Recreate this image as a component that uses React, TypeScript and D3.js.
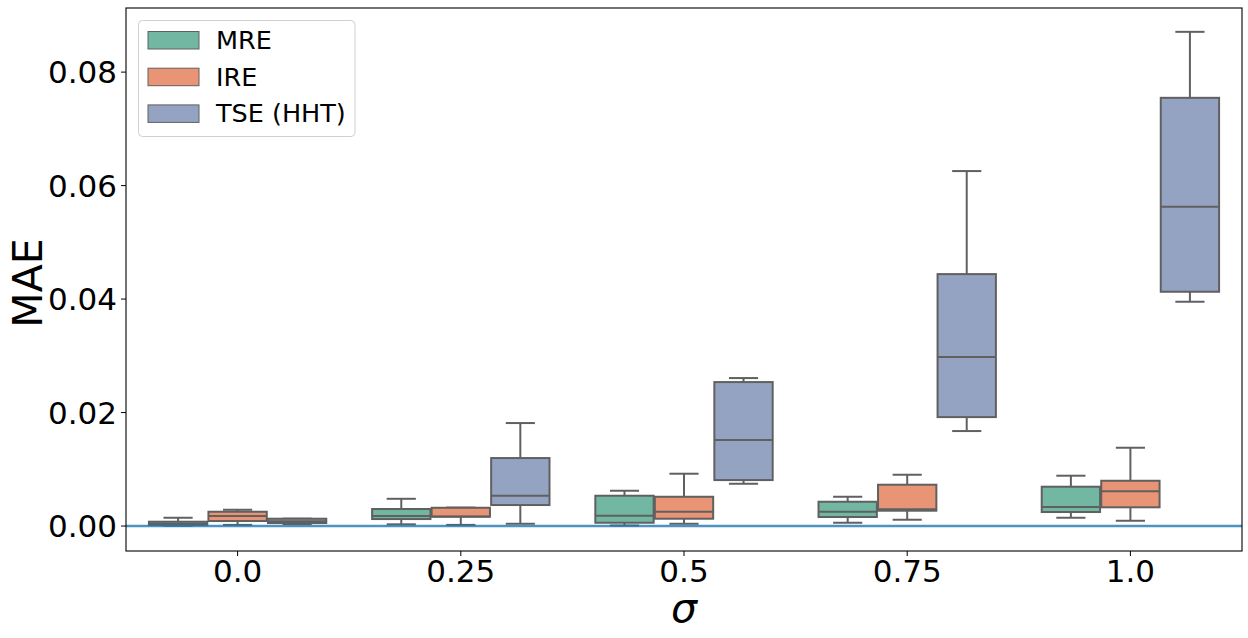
import * as d3 from "d3";

// sigma levels on the x axis
const sigmas = ["0.0", "0.25", "0.5", "0.75", "1.0"];
const seriesNames = ["MRE", "IRE", "TSE (HHT)"];
const seriesColors = ["#71b7a1", "#e99575", "#95a3c3"];

// per sigma: [whisker low, q1, median, q3, whisker high]
const mreStats = [
  [0.00005, 0.00018, 0.0004, 0.00076, 0.00146],
  [0.0003, 0.00123, 0.00176, 0.003, 0.0048],
  [0.0001, 0.00058, 0.00182, 0.00534, 0.00622],
  [0.00058, 0.00159, 0.00252, 0.00428, 0.00516],
  [0.00146, 0.00247, 0.00335, 0.00693, 0.00887],
];
const ireStats = [
  [0.0002, 0.00088, 0.00176, 0.00252, 0.00287],
  [0.0002, 0.00164, 0.0017, 0.00322, 0.00325],
  [0.0004, 0.00129, 0.00252, 0.00516, 0.00922],
  [0.00111, 0.0027, 0.00294, 0.00728, 0.00904],
  [0.00093, 0.0033, 0.00611, 0.00798, 0.0138],
];
const tseStats = [
  [0.00035, 0.00053, 0.00083, 0.00129, 0.0013],
  [0.0004, 0.0037, 0.00534, 0.01198, 0.01815],
  [0.00745, 0.0081, 0.01515, 0.02537, 0.02608],
  [0.01674, 0.0192, 0.02978, 0.0444, 0.06256],
  [0.03953, 0.04129, 0.05627, 0.07547, 0.0871],
];
const allStats = [mreStats, ireStats, tseStats];

const yTicks = [0, 0.02, 0.04, 0.06, 0.08];

const width = 1248;
const height = 638;
const margin = { top: 8, right: 6, bottom: 87, left: 126 };
const font = "DejaVu Sans";
const edge = "#606060";

export default function App() {
  const x = d3
    .scaleBand()
    .domain(sigmas)
    .range([margin.left, width - margin.right])
    .padding(0);
  const bw = x.bandwidth();
  const hue = d3
    .scaleBand()
    .domain(seriesNames)
    .range([bw * 0.1, bw * 0.9]);
  const boxW = hue.bandwidth() * 0.98;

  const y = d3
    .scaleLinear()
    .domain([-0.0044, 0.0913])
    .range([height - margin.bottom, margin.top]);
  const fmt = d3.format(".2f");

  const plotBottom = height - margin.bottom;
  const plotRight = width - margin.right;

  return (
    <div style={{ position: "absolute", left: 0, top: 0 }}>
      <svg width={width} height={height} fontFamily={font}>
        <rect width={width} height={height} fill="#fff" />

        {/* boxes */}
        {allStats.map((stats, si) =>
          stats.map((s, ci) => {
            const cx = (x(sigmas[ci]) || 0) + (hue(seriesNames[si]) || 0) + hue.bandwidth() / 2;
            const [lo, q1, med, q3, hi] = s;
            return (
              <g key={`${si}-${ci}`} stroke={edge} strokeWidth={2}>
                <line x1={cx} x2={cx} y1={y(q3)} y2={y(hi)} />
                <line x1={cx} x2={cx} y1={y(q1)} y2={y(lo)} />
                <line x1={cx - boxW / 4} x2={cx + boxW / 4} y1={y(hi)} y2={y(hi)} />
                <line x1={cx - boxW / 4} x2={cx + boxW / 4} y1={y(lo)} y2={y(lo)} />
                <rect
                  x={cx - boxW / 2}
                  y={y(q3)}
                  width={boxW}
                  height={y(q1) - y(q3)}
                  fill={seriesColors[si]}
                />
                <line x1={cx - boxW / 2} x2={cx + boxW / 2} y1={y(med)} y2={y(med)} />
              </g>
            );
          })
        )}

        {/* zero line */}
        <line
          x1={margin.left}
          x2={plotRight}
          y1={y(0)}
          y2={y(0)}
          stroke="#1f77b4"
          strokeOpacity={0.8}
          strokeWidth={2.5}
        />

        {/* frame */}
        <rect
          x={margin.left}
          y={margin.top}
          width={plotRight - margin.left}
          height={plotBottom - margin.top}
          fill="none"
          stroke="#000"
          strokeWidth={1.1}
        />

        {/* y axis */}
        {yTicks.map((t) => (
          <g key={t}>
            <line x1={margin.left - 5} x2={margin.left} y1={y(t)} y2={y(t)} stroke="#000" strokeWidth={1} />
            <text x={margin.left - 9} y={y(t)} dy="0.36em" textAnchor="end" fontSize={31}>
              {fmt(t)}
            </text>
          </g>
        ))}

        {/* x axis */}
        {sigmas.map((s) => {
          const cx = (x(s) || 0) + bw / 2;
          return (
            <g key={s}>
              <line x1={cx} x2={cx} y1={plotBottom} y2={plotBottom + 5} stroke="#000" strokeWidth={1} />
              <text x={cx} y={582} textAnchor="middle" fontSize={31}>
                {s}
              </text>
            </g>
          );
        })}

        <text x={(margin.left + plotRight) / 2} y={622} textAnchor="middle" fontSize={41} fontStyle="italic">
          σ
        </text>
        <text transform="translate(42,283) rotate(-90)" textAnchor="middle" fontSize={41}>
          MAE
        </text>

        {/* legend */}
        <g>
          <rect x={138.5} y={20.5} width={216.5} height={116} rx={4} fill="#fff" fillOpacity={0.8} stroke="#d0d0d0" />
          {seriesNames.map((name, i) => (
            <g key={name} transform={`translate(148,${31.5 + i * 36.7})`}>
              <rect width={51} height={17.5} fill={seriesColors[i]} stroke={edge} strokeWidth={1} />
              <text x={68} y={17.5} fontSize={25.5}>
                {name}
              </text>
            </g>
          ))}
        </g>
      </svg>
    </div>
  );
}
